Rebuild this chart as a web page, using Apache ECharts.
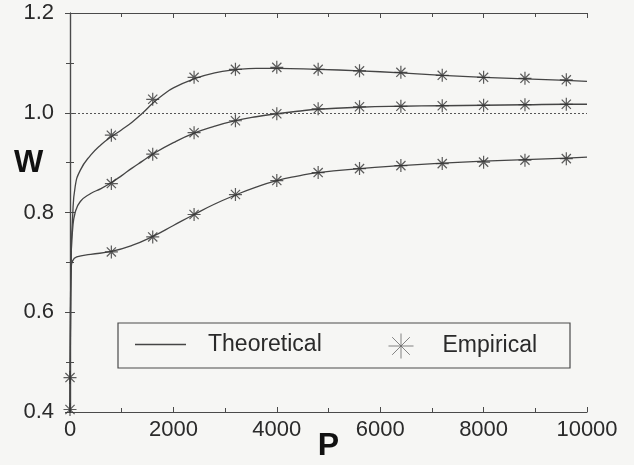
<!DOCTYPE html>
<html>
<head>
<meta charset="utf-8">
<script src="https://cdn.jsdelivr.net/npm/echarts@6/dist/echarts.min.js"></script>
<style>
  html, body { margin: 0; padding: 0; background: #f6f6f4; }
  #chart { width: 634px; height: 465px; }
</style>
</head>
<body>
<div id="chart"></div>
<script>
// ---- Data ----
const xTicks = [0, 2000, 4000, 6000, 8000, 10000];
const yTicks = [0.4, 0.6, 0.8, 1.0, 1.2];

// Theoretical curves (P, W)
const theoTopP = [0, 10, 25, 50, 100, 200, 400, 600, 800, 1000, 1200, 1400, 1600, 1800, 2000, 2400, 2800, 3200, 3600, 4000, 4800, 5600, 6400, 7200, 8000, 8800, 9600, 10000];
const theoTopW = [0.40, 0.58, 0.72, 0.79, 0.852, 0.885, 0.915, 0.936, 0.952, 0.966, 0.981, 0.999, 1.019, 1.036, 1.050, 1.068, 1.080, 1.086, 1.089, 1.089, 1.087, 1.084, 1.080, 1.075, 1.071, 1.068, 1.065, 1.063];

const theoMidP = [0, 10, 25, 50, 100, 200, 400, 600, 800, 1000, 1200, 1400, 1600, 2000, 2400, 2800, 3200, 3600, 4000, 4400, 4800, 5600, 6400, 7200, 8000, 8800, 9600, 10000];
const theoMidW = [0.40, 0.60, 0.72, 0.765, 0.80, 0.822, 0.838, 0.848, 0.860, 0.874, 0.889, 0.903, 0.917, 0.940, 0.959, 0.973, 0.984, 0.992, 0.998, 1.003, 1.007, 1.011, 1.013, 1.014, 1.015, 1.016, 1.017, 1.017];

const theoBotP = [0, 10, 25, 50, 130, 400, 800, 1200, 1600, 2000, 2400, 2800, 3200, 3600, 4000, 4400, 4800, 5600, 6400, 7200, 8000, 8800, 9600, 10000];
const theoBotW = [0.40, 0.62, 0.69, 0.703, 0.711, 0.716, 0.722, 0.734, 0.752, 0.774, 0.796, 0.817, 0.835, 0.851, 0.864, 0.873, 0.880, 0.888, 0.894, 0.899, 0.903, 0.906, 0.909, 0.911];

// Empirical points
const empP = [800, 1600, 2400, 3200, 4000, 4800, 5600, 6400, 7200, 8000, 8800, 9600];
const empTop = [0.955, 1.027, 1.071, 1.087, 1.091, 1.087, 1.084, 1.081, 1.075, 1.071, 1.069, 1.066];
const empMid = [0.858, 0.917, 0.960, 0.984, 0.998, 1.008, 1.012, 1.013, 1.014, 1.015, 1.016, 1.017];
const empBot = [0.721, 0.751, 0.796, 0.836, 0.864, 0.880, 0.888, 0.894, 0.898, 0.901, 0.905, 0.908];
const empStartP = [0, 0];
const empStartW = [0.469, 0.405];

const refLine = 1.0;

// ---- Chart ----
const zip = (xs, ys) => xs.map((x, i) => [x, ys[i]]);
const STAR = 'path://M0,-10L0,10M-10,0L10,0M-7.07,-7.07L7.07,7.07M-7.07,7.07L7.07,-7.07';
const FONT = '"Liberation Sans", Arial, Helvetica, sans-serif';
const INK = '#2a2a2a';
const LINE = '#454545';

const empData = zip(empP, empTop).concat(zip(empP, empMid), zip(empP, empBot), zip(empStartP, empStartW));

const theoSeries = (data, withMark) => {
  const s = {
    name: 'Theoretical', type: 'line', data: data,
    xAxisIndex: 0, yAxisIndex: 0,
    showSymbol: false, symbol: 'none', smooth: 0.5,
    lineStyle: { color: LINE, width: 1.3 }, itemStyle: { color: LINE },
    silent: true, z: 3
  };
  if (withMark) {
    s.markLine = {
      silent: true, symbol: 'none', label: { show: false },
      lineStyle: { color: '#555', width: 1, type: [2, 2] },
      data: [{ yAxis: refLine }]
    };
  }
  return s;
};

const chart = echarts.init(document.getElementById('chart'), null, { renderer: 'canvas' });
const axisCommon = {
  type: 'value',
  axisLine: { show: true, lineStyle: { color: '#4a4a4a', width: 1.2 } },
  axisTick: { show: true, inside: true, length: 5, lineStyle: { color: '#4a4a4a' } },
  minorTick: { show: true, splitNumber: 2, length: 4, lineStyle: { color: '#4a4a4a' } },
  splitLine: { show: false }
};

chart.setOption({
  backgroundColor: '#f6f6f4',
  animation: false,
  grid: { left: 70, right: 47, top: 13, bottom: 53, containLabel: false, outerBoundsMode: 'none' },
  xAxis: [
    Object.assign({}, axisCommon, {
      min: xTicks[0], max: xTicks[xTicks.length - 1], interval: xTicks[1] - xTicks[0],
      position: 'bottom',
      axisLabel: { color: INK, fontFamily: FONT, fontSize: 22, margin: 7, formatter: v => String(v) },
      name: 'P', nameLocation: 'middle', nameGap: 18, nameMoveOverlap: false,
      nameTextStyle: { color: '#111', fontFamily: FONT, fontSize: 32, fontWeight: 'bold' }
    }),
    Object.assign({}, axisCommon, {
      min: xTicks[0], max: xTicks[xTicks.length - 1], interval: xTicks[1] - xTicks[0],
      position: 'top', axisLabel: { show: false }
    })
  ],
  yAxis: [
    Object.assign({}, axisCommon, {
      min: yTicks[0], max: yTicks[yTicks.length - 1], interval: 0.2,
      position: 'left',
      axisLabel: { color: INK, fontFamily: FONT, fontSize: 22, margin: 16,
        formatter: v => v.toFixed(1) }
    }),
    Object.assign({}, axisCommon, {
      min: yTicks[0], max: yTicks[yTicks.length - 1], interval: 0.2,
      position: 'right', axisLabel: { show: false }
    })
  ],
  legend: [
    {
      data: [{ name: 'Theoretical', icon: 'rect' }],
      left: 130, top: 328,
      itemWidth: 51, itemHeight: 1.5,
      itemStyle: { color: LINE, borderWidth: 0 },
      textStyle: { color: INK, fontFamily: FONT, fontSize: 23, padding: [0, 0, 0, 17] },
      selectedMode: false
    },
    {
      data: [{ name: 'Empirical', icon: STAR }],
      left: 383, top: 328,
      itemWidth: 25, itemHeight: 25,
      itemStyle: { color: 'rgba(0,0,0,0)', borderColor: '#666', borderWidth: 1 },
      textStyle: { color: INK, fontFamily: FONT, fontSize: 23, padding: [0, 0, 0, 24] },
      selectedMode: false
    }
  ],
  graphic: [
    { type: 'rect', shape: { x: 118, y: 323, width: 452, height: 45 },
      style: { fill: 'none', stroke: '#4a4a4a', lineWidth: 1.2 }, z: 2 },
    { type: 'text', left: 14, top: 148,
      style: { text: 'W', fill: '#111', font: 'bold 31px ' + FONT }, z: 2 }
  ],
  series: [
    theoSeries(zip(theoTopP, theoTopW), true),
    theoSeries(zip(theoMidP, theoMidW), false),
    theoSeries(zip(theoBotP, theoBotW), false),
    {
      name: 'Empirical', type: 'scatter', data: empData,
      xAxisIndex: 0, yAxisIndex: 0,
      symbol: STAR, symbolSize: 13,
      itemStyle: { color: 'rgba(0,0,0,0)', borderColor: '#333', borderWidth: 1.2 },
      silent: true, z: 4
    }
  ]
});
</script>
</body>
</html>
